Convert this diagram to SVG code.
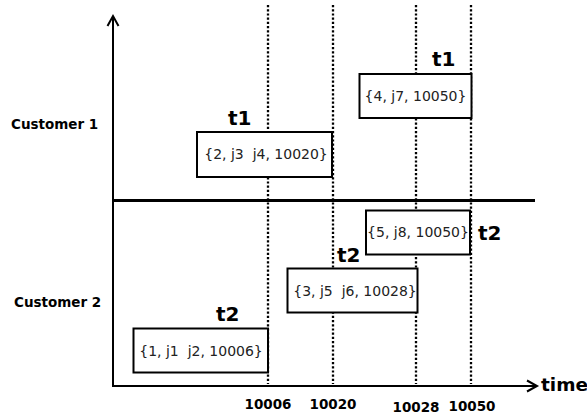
<svg xmlns="http://www.w3.org/2000/svg" width="587" height="417" viewBox="0 0 587 417">
<style>
.box{fill:#fff;stroke:#000;stroke-width:2}
.bt{font-family:"DejaVu Sans",sans-serif;font-size:14px;fill:#222;text-anchor:middle;white-space:pre}
.tl{font-family:"DejaVu Sans",sans-serif;font-weight:bold;font-size:20px;fill:#000}
.cl{font-family:"DejaVu Sans",sans-serif;font-weight:bold;font-size:13.5px;fill:#000}
.ax{font-family:"DejaVu Sans",sans-serif;font-weight:bold;font-size:13.5px;fill:#000;text-anchor:middle}
.dot{stroke:#000;stroke-width:2.3;stroke-dasharray:2.2 2;fill:none}
.axis{stroke:#000;stroke-width:2;fill:none}
.head{stroke:#000;stroke-width:2;fill:none}
</style>
<rect width="587" height="417" fill="#fff"/>
<g id="connectors">
<line class="axis" x1="113" y1="387" x2="113" y2="17"/>
<polyline class="head" points="107.5,26 113,16 118.5,26"/>
<line class="axis" x1="112" y1="386" x2="536" y2="386"/>
<polyline class="head" points="527,380.5 537,386 527,391.5"/>
<line x1="113" y1="200.5" x2="535" y2="200.5" stroke="#000" stroke-width="3"/>
<line class="dot" x1="268" y1="5" x2="268" y2="384"/>
<line class="dot" x1="333" y1="5" x2="333" y2="384"/>
<line class="dot" x1="416" y1="5" x2="416" y2="384"/>
<line class="dot" x1="471" y1="5" x2="471" y2="384"/>
</g>
<g id="labels">
<text class="cl" x="11" y="129">Customer 1</text>
<text class="cl" x="14" y="307">Customer 2</text>
<text x="541" y="391" font-family="DejaVu Sans,sans-serif" font-weight="bold" font-size="18.5">time</text>
<text class="ax" x="268" y="409">10006</text>
<text class="ax" x="333" y="409">10020</text>
<text class="ax" x="416" y="412">10028</text>
<text class="ax" x="472" y="411">10050</text>
</g>
<g id="node-b2">
<rect class="box" x="197" y="132" width="135" height="45"/>
<text class="bt" x="266" y="159" xml:space="preserve">{2, j3  j4, 10020}</text>
<text class="tl" x="228" y="125">t1</text>
</g>
<g id="node-b4">
<rect class="box" x="359.5" y="74" width="112" height="44"/>
<text class="bt" x="415.5" y="101">{4, j7, 10050}</text>
<text class="tl" x="432" y="66">t1</text>
</g>
<g id="node-b5">
<rect class="box" x="366" y="210.5" width="104" height="44"/>
<text class="bt" x="418" y="237">{5, j8, 10050}</text>
<text class="tl" x="478" y="240">t2</text>
</g>
<g id="node-b3">
<rect class="box" x="287.5" y="268.5" width="130" height="44"/>
<text class="bt" x="355" y="296" xml:space="preserve">{3, j5  j6, 10028}</text>
<text class="tl" x="337" y="262">t2</text>
</g>
<g id="node-b1">
<rect class="box" x="133.5" y="328.5" width="134.5" height="44"/>
<text class="bt" x="201" y="356" xml:space="preserve">{1, j1  j2, 10006}</text>
<text class="tl" x="216" y="321">t2</text>
</g>
</svg>
